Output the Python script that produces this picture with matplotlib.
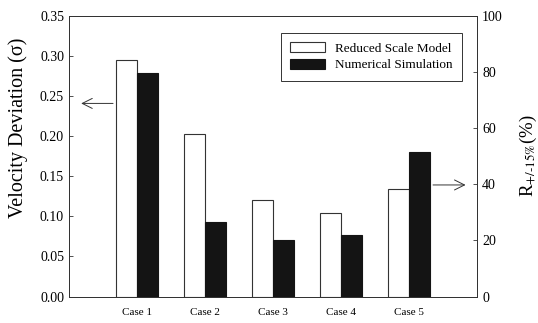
import numpy as np
import matplotlib.pyplot as plt

# dados
casos = ['Case 1', 'Case 2', 'Case 3', 'Case 4', 'Case 5']
modelo_reduzido = [0.295, 0.203, 0.120, 0.104, 0.134]
simulacao_numerica = [0.278, 0.093, 0.071, 0.076, 0.180]

ticks_esq = [0.00, 0.05, 0.10, 0.15, 0.20, 0.25, 0.30, 0.35]
ticks_dir = [0, 20, 40, 60, 80, 100]

plt.rcParams['font.family'] = 'Liberation Serif'
plt.rcParams['mathtext.fontset'] = 'stix'

fig = plt.figure(figsize=(5.38, 3.23), dpi=100)
ax = fig.add_axes([0.128, 0.082, 0.759, 0.870])

x = np.arange(1, len(casos) + 1)
largura = 0.31
cor_linha = '#333333'

ax.bar(x - largura / 2, modelo_reduzido, largura, color='white', edgecolor=cor_linha,
       linewidth=0.8, label='Reduced Scale Model')
ax.bar(x + largura / 2, simulacao_numerica, largura, color='#141414', edgecolor='#141414',
       linewidth=0.8, label='Numerical Simulation')

ax.set_xlim(0, 6)
ax.set_ylim(0, 0.35)
ax.set_xticks(x)
ax.set_xticklabels(casos, fontsize=8)
ax.tick_params(axis='x', length=0, pad=8)
ax.set_yticks(ticks_esq)
ax.set_yticklabels([f'{t:.2f}' for t in ticks_esq], fontsize=10)
ax.tick_params(axis='y', direction='in', length=3, width=0.6, color=cor_linha)
ax.set_ylabel('Velocity Deviation (σ)', fontsize=14.5)
ax.yaxis.set_label_coords(-0.10, 0.6)

for s in ax.spines.values():
    s.set_linewidth(0.7)
    s.set_color(cor_linha)

# eixo direito
ax2 = ax.twinx()
ax2.set_ylim(0, 100)
ax2.set_yticks(ticks_dir)
ax2.set_yticklabels([str(t) for t in ticks_dir], fontsize=10)
ax2.tick_params(axis='y', direction='in', length=3, width=0.6, color=cor_linha)
ax2.set_ylabel(r'R$_{\text{+/-15\%}}$(%)', fontsize=13.5, labelpad=11)
for s in ax2.spines.values():
    s.set_linewidth(0.7)
    s.set_color(cor_linha)

# setas indicando o eixo de cada serie
ax.annotate('', xy=(0.14, 0.2405), xytext=(1 - largura, 0.2405),
            arrowprops=dict(arrowstyle='->', lw=0.7, color=cor_linha,
                            mutation_scale=18))
ax2.annotate('', xy=(5.87, 39.7), xytext=(5 + largura, 39.7),
             arrowprops=dict(arrowstyle='->', lw=0.7, color=cor_linha,
                             mutation_scale=18))

leg = ax.legend(loc='upper right', bbox_to_anchor=(0.963, 0.938), fontsize=9.5,
                fancybox=False, edgecolor=cor_linha, framealpha=1, borderaxespad=0,
                handlelength=2.6, handleheight=0.8, borderpad=0.7, labelspacing=0.3)
leg.get_frame().set_linewidth(0.7)

fig.savefig('out.png', dpi=100)
